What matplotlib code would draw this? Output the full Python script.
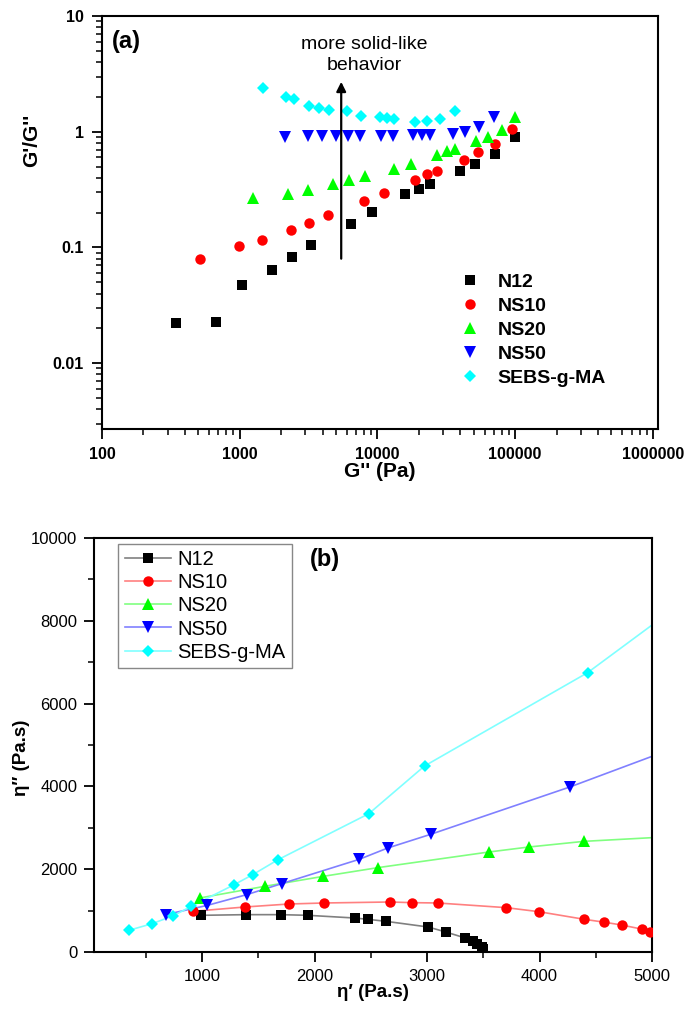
import matplotlib
matplotlib.use("Agg")
import matplotlib.pyplot as plt
from matplotlib.ticker import FixedLocator, FuncFormatter, NullFormatter, LogLocator, MultipleLocator
from matplotlib.lines import Line2D

plt.rcParams['font.family'] = ['Liberation Sans', 'DejaVu Sans']

# ---------------- Panel (a) data: G'/G'' vs G'' ----------------
a_N12_x = [345, 676, 1035, 1703, 2384, 3314, 6378, 9141, 15920, 20150, 23970, 39700, 51540, 71100, 100500]
a_N12_y = [0.0224, 0.0229, 0.0473, 0.0645, 0.0825, 0.105, 0.160, 0.204, 0.288, 0.321, 0.354, 0.461, 0.530, 0.646, 0.90]

a_NS10_x = [511, 988, 1455, 2344, 3190, 4390, 8040, 11120, 18720, 23040, 27090, 42250, 53750, 71100, 95000]
a_NS10_y = [0.080, 0.1025, 0.115, 0.142, 0.164, 0.189, 0.253, 0.298, 0.386, 0.428, 0.459, 0.574, 0.664, 0.789, 1.06]

a_NS20_x = [1250, 2228, 3153, 4751, 6176, 8080, 13240, 17420, 26980, 31920, 36330, 51920, 63500, 80300, 100500]
a_NS20_y = [0.268, 0.290, 0.312, 0.351, 0.379, 0.412, 0.480, 0.527, 0.634, 0.676, 0.710, 0.825, 0.900, 1.026, 1.34]

a_NS50_x = [2142, 3155, 3948, 5019, 6110, 7425, 10570, 13020, 17990, 20940, 24080, 35090, 42960, 54330, 69960]
a_NS50_y = [0.893, 0.910, 0.910, 0.924, 0.924, 0.924, 0.924, 0.924, 0.942, 0.942, 0.942, 0.961, 0.994, 1.099, 1.34]

a_SEBS_x = [1465, 2168, 2466, 3173, 3790, 4485, 6011, 7553, 10390, 11830, 13150, 18720, 23050, 28510, 36650]
a_SEBS_y = [2.41, 1.99, 1.91, 1.67, 1.60, 1.53, 1.52, 1.37, 1.34, 1.31, 1.29, 1.21, 1.23, 1.29, 1.52]

a_xticks = [100, 1000, 10000, 100000, 1000000]
a_xticklabels = ["100", "1000", "10000", "100000", "1000000"]
a_yticks = [0.01, 0.1, 1, 10]
a_yticklabels = ["0.01", "0.1", "1", "10"]

# ---------------- Panel (b) data: eta'' vs eta' ----------------
b_N12_x = [994, 1390, 1698, 1943, 2356, 2476, 2635, 3010, 3168, 3340, 3406, 3444, 3486, 3498]
b_N12_y = [886, 902, 902, 886, 821, 789, 741, 604, 483, 338, 258, 185, 121, 64]

b_NS10_x = [921, 1381, 1771, 2086, 2673, 2863, 3095, 3705, 3994, 4397, 4575, 4730, 4911, 4984]
b_NS10_y = [982, 1087, 1159, 1184, 1208, 1192, 1184, 1071, 974, 790, 720, 652, 552, 487]

b_NS20_x = [978, 1556, 2079, 2562, 3549, 3905, 4397, 5300]
b_NS20_y = [1304, 1586, 1828, 2037, 2415, 2536, 2673, 2806]

b_NS50_x = [676, 1048, 1397, 1708, 2397, 2651, 3032, 4270, 5300]
b_NS50_y = [902, 1127, 1385, 1651, 2238, 2512, 2842, 3986, 5030]

b_SEBS_x = [349, 556, 740, 905, 1286, 1451, 1676, 2483, 2978, 4427, 5300]
b_SEBS_y = [523, 684, 870, 1103, 1626, 1868, 2230, 3341, 4493, 6746, 8500]

series_names = ["N12", "NS10", "NS20", "NS50", "SEBS-g-MA"]
marker_colors = ["#000000", "#ff0000", "#00ff00", "#0000ff", "#00ffff"]
line_colors = ["#808080", "#ff8080", "#80ff80", "#8080ff", "#80ffff"]
markers = ["s", "o", "^", "v", "D"]
msizes = [6.5, 7.5, 8.0, 8.0, 5.8]

fig = plt.figure(figsize=(6.86, 10.11), dpi=100)

# ================= Panel (a) =================
ax1 = fig.add_axes([102 / 686, 1 - 429 / 1011, (658 - 102) / 686, (429 - 16) / 1011])
ax1.set_xscale("log")
ax1.set_yscale("log")

a_x = [a_N12_x, a_NS10_x, a_NS20_x, a_NS50_x, a_SEBS_x]
a_y = [a_N12_y, a_NS10_y, a_NS20_y, a_NS50_y, a_SEBS_y]
for xs, ys, name, c, m, ms in zip(a_x, a_y, series_names, marker_colors, markers, msizes):
    ax1.plot(xs, ys, linestyle="none", marker=m, color=c, markersize=ms,
             markeredgewidth=0, label=name)

ax1.set_xlim(100, 1.09e6)
ax1.set_ylim(0.0027, 10)
ax1.xaxis.set_major_locator(FixedLocator(a_xticks))
ax1.xaxis.set_major_formatter(FuncFormatter(lambda v, p: a_xticklabels[a_xticks.index(v)] if v in a_xticks else ""))
ax1.yaxis.set_major_locator(FixedLocator(a_yticks))
ax1.yaxis.set_major_formatter(FuncFormatter(lambda v, p: a_yticklabels[a_yticks.index(v)] if v in a_yticks else ""))
ax1.xaxis.set_minor_locator(LogLocator(base=10, subs=range(2, 10), numticks=20))
ax1.yaxis.set_minor_locator(LogLocator(base=10, subs=range(2, 10), numticks=20))
ax1.xaxis.set_minor_formatter(NullFormatter())
ax1.yaxis.set_minor_formatter(NullFormatter())
ax1.tick_params(which="major", direction="out", length=7, width=1.3, labelsize=11.5, pad=6)
ax1.tick_params(which="minor", direction="out", length=4, width=1.1)
for lab in ax1.get_xticklabels() + ax1.get_yticklabels():
    lab.set_fontweight("bold")
for sp in ax1.spines.values():
    sp.set_linewidth(1.5)

ax1.set_xlabel("G'' (Pa)", fontsize=15, fontweight="bold", labelpad=0)
ax1.set_ylabel("G'/G''", fontsize=15, fontweight="bold")
ax1.yaxis.set_label_coords(-0.11, 0.70)

ax1.text(0.018, 0.965, "(a)", transform=ax1.transAxes, fontsize=17, fontweight="bold",
         ha="left", va="top")

ax1.annotate("", xy=(5458, 2.70), xytext=(5458, 0.080),
             arrowprops=dict(arrowstyle="-|>", color="black", lw=1.6, mutation_scale=14,
                             shrinkA=0, shrinkB=0))
ax1.text(8035, 4.6, "more solid-like\nbehavior", ha="center", va="center", fontsize=14,
         linespacing=1.35)

leg1 = ax1.legend(loc="upper left", bbox_to_anchor=(0.644, 0.377), frameon=False,
                  fontsize=14, handlelength=1.0, handletextpad=0.94, labelspacing=0.33,
                  borderaxespad=0, borderpad=0, numpoints=1)
for t in leg1.get_texts():
    t.set_fontweight("bold")

# ================= Panel (b) =================
ax2 = fig.add_axes([94 / 686, 1 - 952 / 1011, (652 - 94) / 686, (952 - 538) / 1011])
b_x = [b_N12_x, b_NS10_x, b_NS20_x, b_NS50_x, b_SEBS_x]
b_y = [b_N12_y, b_NS10_y, b_NS20_y, b_NS50_y, b_SEBS_y]
for xs, ys, name, mc, lc, m, ms in zip(b_x, b_y, series_names, marker_colors, line_colors, markers, msizes):
    ax2.plot(xs, ys, linestyle="-", color=lc, linewidth=1.2, zorder=2)
    ax2.plot(xs, ys, linestyle="none", marker=m, color=mc, markersize=ms,
             markeredgewidth=0, zorder=3)

handles = [Line2D([], [], color=lc, linewidth=1.2, marker=m, markerfacecolor=mc,
                  markeredgewidth=0, markersize=ms)
           for lc, mc, m, ms in zip(line_colors, marker_colors, markers, msizes)]
leg2 = ax2.legend(handles, series_names, loc="upper left", bbox_to_anchor=(0.043, 0.986),
                  fontsize=14.5, frameon=True, fancybox=False, edgecolor="#888888",
                  framealpha=1, handlelength=2.3, handletextpad=0.3, labelspacing=0.2,
                  borderaxespad=0, borderpad=0.33)
leg2.get_frame().set_linewidth(1.0)

ax2.set_xlim(40, 5000)
ax2.set_ylim(0, 10000)
ax2.xaxis.set_major_locator(MultipleLocator(1000))
ax2.xaxis.set_minor_locator(MultipleLocator(500))
ax2.yaxis.set_major_locator(MultipleLocator(2000))
ax2.yaxis.set_minor_locator(MultipleLocator(1000))
ax2.tick_params(which="major", direction="out", length=7, width=1.3, labelsize=12, pad=5)
ax2.tick_params(which="minor", direction="out", length=4, width=1.1)
for sp in ax2.spines.values():
    sp.set_linewidth(1.5)

ax2.set_xlabel("η′ (Pa.s)", fontsize=13.5, fontweight="bold", labelpad=0)
ax2.set_ylabel("η″ (Pa.s)", fontsize=13.5, fontweight="bold")
ax2.yaxis.set_label_coords(-0.114, 0.47)

ax2.text(0.387, 0.975, "(b)", transform=ax2.transAxes, fontsize=17, fontweight="bold",
         ha="left", va="top")

fig.savefig("out.png", dpi=100)
